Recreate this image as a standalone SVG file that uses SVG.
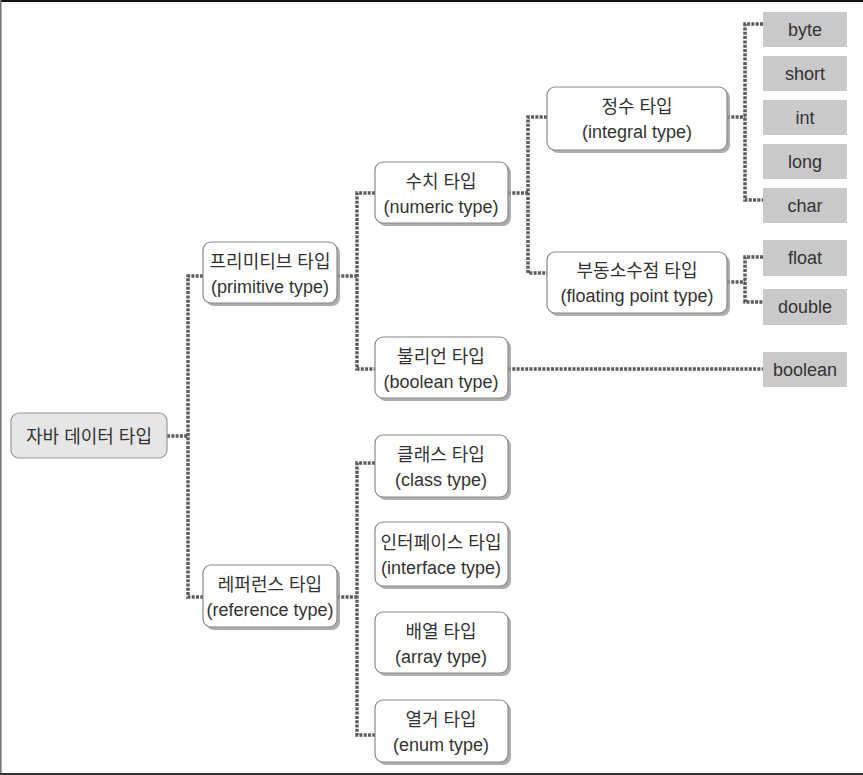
<svg xmlns="http://www.w3.org/2000/svg" width="863" height="775" viewBox="0 0 863 775">
<style>
.t{font-family:"Liberation Sans","Noto Sans CJK KR",sans-serif;font-size:18px;fill:#333;text-anchor:middle}
.n{fill:#fff;stroke:#8a8a8a;stroke-width:1.2}
.s{fill:#9a9a9a;opacity:0.8}
.r{fill:#e6e6e6;stroke:#999;stroke-width:1.2}
.l{fill:#c9c9c9}
.c{fill:none;stroke:#5c5c5c;stroke-width:3.5;stroke-dasharray:3 1.3}
</style>
<rect width="863" height="775" fill="#fff"/>
<line x1="0" y1="1" x2="863" y2="1" stroke="#111" stroke-width="2"/>
<line x1="0.8" y1="0" x2="0.8" y2="775" stroke="#777" stroke-width="1.6"/>
<line x1="0" y1="774" x2="863" y2="774" stroke="#333" stroke-width="2"/>
<g id="connectors">
<path class="c" d="M167 436 H188 M203 276 H188 V597 H203"/>
<path class="c" d="M337 276 H357 M375 193 H357 V369 H375"/>
<path class="c" d="M337 597 H357 M375 463 H357 V735 H375"/>
<path class="c" d="M508 193 H528 M547 117 H528 V273 H547"/>
<path class="c" d="M508 369 H763"/>
<path class="c" d="M727 117 H745 M763 24 H745 V200 H763"/>
<path class="c" d="M727 282 H745 M763 257 H745 V302 H763"/>
</g>
<g id="root">
<rect class="r" x="11" y="413" width="156" height="45" rx="8"/>
<text class="t" x="89" y="443">자바 데이터 타입</text>
</g>
<g id="primitive">
<rect class="s" x="206" y="245" width="134" height="61" rx="8"/>
<rect class="n" x="203" y="242" width="134" height="61" rx="8"/>
<text class="t" x="270" y="268">프리미티브 타입</text>
<text class="t" x="270" y="293">(primitive type)</text>
</g>
<g id="reference">
<rect class="s" x="206" y="568" width="134" height="62" rx="8"/>
<rect class="n" x="203" y="565" width="134" height="62" rx="8"/>
<text class="t" x="270" y="591">레퍼런스 타입</text>
<text class="t" x="270" y="616">(reference type)</text>
</g>
<g id="numeric">
<rect class="s" x="378" y="165" width="133" height="61" rx="8"/>
<rect class="n" x="375" y="162" width="133" height="61" rx="8"/>
<text class="t" x="441" y="188">수치 타입</text>
<text class="t" x="441" y="213">(numeric type)</text>
</g>
<g id="boolean-type">
<rect class="s" x="378" y="340" width="133" height="61" rx="8"/>
<rect class="n" x="375" y="337" width="133" height="61" rx="8"/>
<text class="t" x="441" y="363">불리언 타입</text>
<text class="t" x="441" y="388">(boolean type)</text>
</g>
<g id="integral">
<rect class="s" x="550" y="90" width="180" height="63" rx="8"/>
<rect class="n" x="547" y="87" width="180" height="63" rx="8"/>
<text class="t" x="637" y="113">정수 타입</text>
<text class="t" x="637" y="138">(integral type)</text>
</g>
<g id="floating">
<rect class="s" x="550" y="255" width="180" height="61" rx="8"/>
<rect class="n" x="547" y="252" width="180" height="61" rx="8"/>
<text class="t" x="637" y="277">부동소수점 타입</text>
<text class="t" x="637" y="302">(floating point type)</text>
</g>
<g id="class">
<rect class="s" x="378" y="438" width="133" height="62" rx="8"/>
<rect class="n" x="375" y="435" width="133" height="62" rx="8"/>
<text class="t" x="441" y="461">클래스 타입</text>
<text class="t" x="441" y="486">(class type)</text>
</g>
<g id="interface">
<rect class="s" x="378" y="525" width="133" height="64" rx="8"/>
<rect class="n" x="375" y="522" width="133" height="64" rx="8"/>
<text class="t" x="441" y="549">인터페이스 타입</text>
<text class="t" x="441" y="574">(interface type)</text>
</g>
<g id="array">
<rect class="s" x="378" y="615" width="133" height="61" rx="8"/>
<rect class="n" x="375" y="612" width="133" height="61" rx="8"/>
<text class="t" x="441" y="638">배열 타입</text>
<text class="t" x="441" y="663">(array type)</text>
</g>
<g id="enum">
<rect class="s" x="378" y="703" width="133" height="62" rx="8"/>
<rect class="n" x="375" y="700" width="133" height="62" rx="8"/>
<text class="t" x="441" y="726">열거 타입</text>
<text class="t" x="441" y="751">(enum type)</text>
</g>
<g id="byte"><rect class="l" x="763" y="12" width="84" height="35"/><text class="t" x="805" y="36">byte</text></g>
<g id="short"><rect class="l" x="763" y="56" width="84" height="35"/><text class="t" x="805" y="80">short</text></g>
<g id="int"><rect class="l" x="763" y="100" width="84" height="35"/><text class="t" x="805" y="124">int</text></g>
<g id="long"><rect class="l" x="763" y="144" width="84" height="35"/><text class="t" x="805" y="168">long</text></g>
<g id="char"><rect class="l" x="763" y="188" width="84" height="35"/><text class="t" x="805" y="212">char</text></g>
<g id="float"><rect class="l" x="763" y="240" width="84" height="36"/><text class="t" x="805" y="264">float</text></g>
<g id="double"><rect class="l" x="763" y="289" width="84" height="36"/><text class="t" x="805" y="313">double</text></g>
<g id="boolean"><rect class="l" x="763" y="352" width="84" height="35"/><text class="t" x="805" y="376">boolean</text></g>
</svg>
